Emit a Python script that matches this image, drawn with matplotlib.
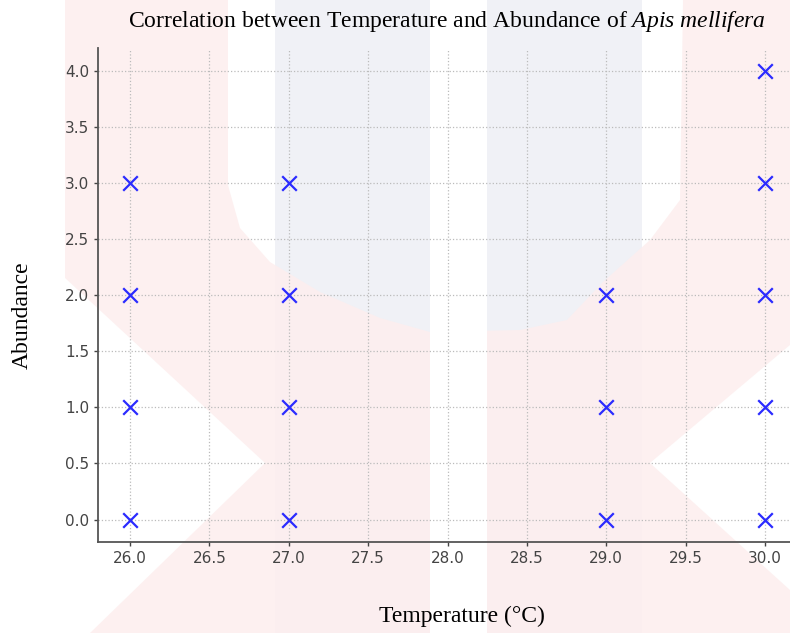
import matplotlib
matplotlib.use("Agg")
import matplotlib.pyplot as plt
from matplotlib.patches import Polygon

# data
temperature = [26, 26, 26, 26, 27, 27, 27, 27, 29, 29, 29, 30, 30, 30, 30, 30]
abundance = [0, 1, 2, 3, 0, 1, 2, 3, 0, 1, 2, 0, 1, 2, 3, 4]
x_ticks = [26.0, 26.5, 27.0, 27.5, 28.0, 28.5, 29.0, 29.5, 30.0]
y_ticks = [0.0, 0.5, 1.0, 1.5, 2.0, 2.5, 3.0, 3.5, 4.0]

plt.rcParams['mathtext.fontset'] = 'custom'
plt.rcParams['mathtext.it'] = 'Liberation Serif:italic'
plt.rcParams['mathtext.rm'] = 'Liberation Serif'

W, H = 790, 633
fig = plt.figure(figsize=(W / 100, H / 100), dpi=100)

def fc(pts):
    # pixel coords (y down) -> figure fraction
    return [(x / W, 1 - y / H) for x, y in pts]

# faint watermark in the background
pink = '#fdeeee'
grey = '#f0f1f6'
fig.add_artist(Polygon(fc([(275, 0), (430, 0), (430, H), (275, H)]), closed=True,
                       facecolor=grey, edgecolor='none', zorder=0))
fig.add_artist(Polygon(fc([(487, 0), (642, 0), (642, H), (487, H)]), closed=True,
                       facecolor=grey, edgecolor='none', zorder=0))
wm = [(65, 0), (228, 0), (228, 185), (240, 228), (270, 262), (320, 292), (380, 318),
      (430, 332), (520, 330), (567, 320), (603, 282), (650, 240), (680, 200), (683, 0),
      (790, 0), (790, 345), (650, 463), (790, 590), (790, H), (90, H), (265, 463), (65, 278)]
fig.add_artist(Polygon(fc(wm), closed=True, facecolor=pink, edgecolor='none',
                       alpha=0.85, zorder=0))
fig.add_artist(Polygon(fc([(430, 0), (487, 0), (487, H), (430, H)]), closed=True,
                       facecolor='white', edgecolor='none', zorder=0))

ax = fig.add_axes([98.2 / W, (H - 542) / H, (796.8 - 98.2) / W, (542 - 48.5) / H])
ax.patch.set_alpha(0)

ax.scatter(temperature, abundance, marker='x', s=110, color='#2b2bff',
           linewidths=1.6, zorder=3)

ax.set_xlim(25.8, 30.2)
ax.set_ylim(-0.2, 4.2)
ax.set_xticks(x_ticks)
ax.set_yticks(y_ticks)
ax.set_xticklabels(['%.1f' % v for v in x_ticks])
ax.set_yticklabels(['%.1f' % v for v in y_ticks])
ax.tick_params(labelsize=11, colors='#444444', length=3, width=1)
ax.grid(True, linestyle=':', color='#bbbbbb', linewidth=0.9)

for s in ['top', 'right']:
    ax.spines[s].set_visible(False)
for s in ['left', 'bottom']:
    ax.spines[s].set_color('#555555')
    ax.spines[s].set_linewidth(1.3)

fig.text(447 / W, 1 - 21 / H,
         r'Correlation between Temperature and Abundance of $\it{Apis\ mellifera}$',
         ha='center', va='center', fontsize=17, family='Liberation Serif')
fig.text(462 / W, 1 - 616 / H, 'Temperature (°C)', ha='center', va='center',
         fontsize=17, family='Liberation Serif')
fig.text(22 / W, 1 - 315 / H, 'Abundance', ha='center', va='center', rotation=90,
         fontsize=17, family='Liberation Serif')

fig.savefig('out.png', dpi=100)
